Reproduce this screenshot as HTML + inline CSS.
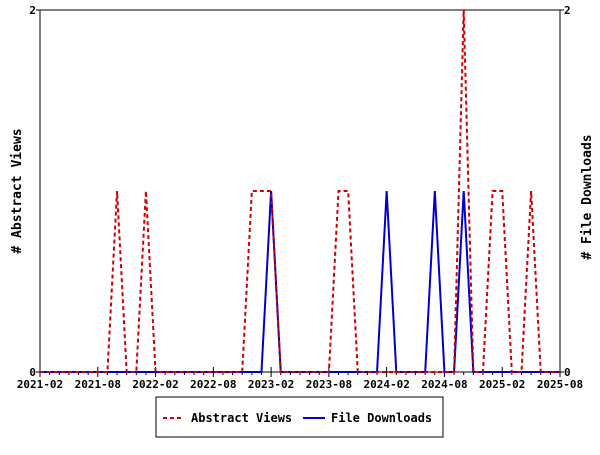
<!DOCTYPE html>
<html><head><meta charset="utf-8"><style>
body{margin:0;background:#fff;width:600px;height:450px;overflow:hidden}
svg text{font-family:"DejaVu Sans Mono","Liberation Mono",monospace;font-weight:bold}
</style></head><body>
<svg id="chart" width="600" height="450" xmlns="http://www.w3.org/2000/svg">
<rect x="0" y="0" width="600" height="450" fill="#fff"/>
<g id="grid"></g>
<rect x="40" y="10" width="520" height="362" fill="none" stroke="#000" stroke-width="1"/>
<text transform="translate(21,191) rotate(-90)" text-anchor="middle" font-size="13">#  Abstract Views</text>
<text transform="translate(591,197) rotate(-90)" text-anchor="middle" font-size="13"># File Downloads</text>
<g id="legend">
<rect x="156" y="397" width="287" height="40" fill="#fff" stroke="#000"/>
<line x1="163" y1="418" x2="183" y2="418" stroke="#cc0000" stroke-width="2" stroke-dasharray="4,3"/>
<text x="191" y="422" font-size="12">Abstract Views</text>
<line x1="303" y1="418" x2="325" y2="418" stroke="#0000cc" stroke-width="2"/>
<text x="331" y="422" font-size="12">File Downloads</text>
</g>
<g id="series"></g>
</svg>
<script>
const tickLabels=["2021-02","2021-08","2022-02","2022-08","2023-02","2023-08","2024-02","2024-08","2025-02","2025-08"];
const nMonths=54;
const viewsMonths=[8,11,22,23,24,31,32,44,47,48,51];
const viewsValues=[1,1,1,1,1,1,1,2,1,1,1];
const dlMonths=[24,36,41,44];
const dlValues=[1,1,1,1];
const yMax=2;
const NS="http://www.w3.org/2000/svg";
const x=i=>40+i*520/nMonths;
const y=v=>372-v*362/yMax;
const svg=document.getElementById('chart');
const g=document.getElementById('grid');
function mk(tag,attrs,parent){const e=document.createElementNS(NS,tag);for(const k in attrs)e.setAttribute(k,attrs[k]);parent.appendChild(e);return e;}
for(let i=0;i<=nMonths;i++){
 const major=i%6===0;
 const t=mk('line',{x1:x(i),x2:x(i),y1:372-(major?0:0),y2:372+(major?5:3),stroke:'#000'},g);
 
 
 if(major){const u=mk('line',{x1:x(i),x2:x(i),y1:372,y2:367,stroke:'#000'},g);
 
 }
}
tickLabels.forEach((l,k)=>{const t=mk('text',{x:x(k*6),y:388,'text-anchor':'middle','font-size':'11'},g);t.textContent=l;
 
 });
[[0,'0'],[2,'2']].forEach(([v,l])=>{
 const a=mk('text',{x:36,y:y(v)+4,'text-anchor':'end','font-size':'11'},g);a.textContent=l;
 
 
 const b=mk('text',{x:564,y:y(v)+4,'text-anchor':'start','font-size':'11'},g);b.textContent=l;
 
 
 mk('line',{x1:36,x2:40,y1:y(v),y2:y(v),stroke:'#000'},g);
 mk('line',{x1:560,x2:564,y1:y(v),y2:y(v),stroke:'#000'},g);
});
function series(months,vals){const arr=new Array(nMonths+1).fill(0);months.forEach((m,k)=>arr[m]=vals[k]);return arr.map((v,i)=>x(i)+','+y(v)).join(' ');}
const s=document.getElementById('series');
const dl=mk('polyline',{points:series(dlMonths,dlValues),fill:'none',stroke:'#0000cc','stroke-width':2},s);


const vw=mk('polyline',{points:series(viewsMonths,viewsValues),fill:'none',stroke:'#cc0000','stroke-width':2,'stroke-dasharray':'4,3'},s);


</script>
</body></html>
